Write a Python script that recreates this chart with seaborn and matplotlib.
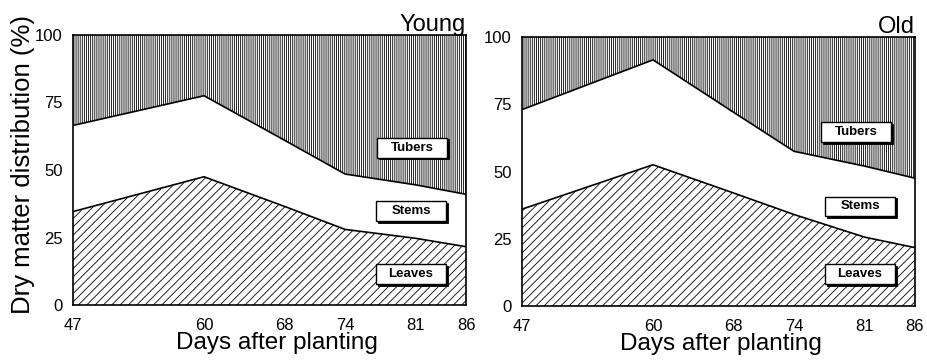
import matplotlib
matplotlib.use("Agg")
import matplotlib.pyplot as plt
import seaborn as sns
import pandas as pd
from matplotlib.patches import Rectangle

# ---- data ----
days = [47, 60, 68, 74, 81, 86]
xtick_labels = ["47", "60", "68", "74", "81", "86"]
yticks = [0, 25, 50, 75, 100]
young_leaves = [34.6, 47.5, 36.5, 28.0, 24.7, 21.6]          # top of leaves band
young_leaves_stems = [66.5, 77.5, 61.0, 48.5, 44.5, 41.0]    # top of stems band
old_leaves = [36.0, 52.5, 42.0, 34.0, 25.6, 21.7]
old_leaves_stems = [73.0, 91.5, 72.0, 57.5, 52.0, 47.5]
panel_titles = ["Young", "Old"]
part_names = ["Tubers", "Stems", "Leaves"]

sns.set_theme(style="white")
plt.rcParams["font.family"] = ["Liberation Sans", "DejaVu Sans"]
plt.rcParams["hatch.linewidth"] = 0.6
plt.rcParams["hatch.color"] = "black"

fig = plt.figure(figsize=(9.27, 3.64), dpi=100)
W, H = 927, 364
ax1 = fig.add_axes([73 / W, 1 - 305 / H, 393 / W, 270 / H])
ax2 = fig.add_axes([522 / W, 1 - 306 / H, 393 / W, 269 / H])

panels = [
    (ax1, young_leaves, young_leaves_stems, panel_titles[0],
     [(0.863, 0.583), (0.860, 0.348), (0.860, 0.115)], 0.52),
    (ax2, old_leaves, old_leaves_stems, panel_titles[1],
     [(0.850, 0.647), (0.860, 0.370), (0.860, 0.119)], 0.505),
]

for ax, leaves, stems, title, box_pos, xlab_x in panels:
    df = pd.DataFrame({"day": days, "leaves": leaves, "stems": stems,
                       "top": [100] * len(days), "bottom": [0] * len(days)})
    # fills
    ax.fill_between(df["day"], df["bottom"], df["leaves"], facecolor="white",
                    edgecolor="black", hatch="////", linewidth=0)
    ax.fill_between(df["day"], df["leaves"], df["stems"], facecolor="white",
                    edgecolor="white", linewidth=0)
    ax.fill_between(df["day"], df["stems"], df["top"], facecolor="white",
                    edgecolor="black", hatch="||||||||", linewidth=0)
    # boundary lines
    sns.lineplot(data=df, x="day", y="leaves", ax=ax, color="black", lw=1.2)
    sns.lineplot(data=df, x="day", y="stems", ax=ax, color="black", lw=1.2)

    ax.set_xlim(days[0], days[-1])
    ax.set_ylim(0, 100)
    ax.set_xticks(days)
    ax.set_xticklabels(xtick_labels)
    ax.set_yticks(yticks)
    ax.set_yticklabels([str(v) for v in yticks])
    ax.tick_params(axis="both", direction="inout", length=9, width=1.1,
                   color="black", labelsize=12, labelcolor="black")
    ax.tick_params(axis="x", pad=5)
    ax.tick_params(axis="y", pad=3)
    for s in ax.spines.values():
        s.set_visible(True)
        s.set_color("black")
        s.set_linewidth(1.2)
    ax.set_xlabel("Days after planting", fontsize=17.5, color="black")
    ax.xaxis.set_label_coords(xlab_x, -0.10)
    ax.set_ylabel("")
    ax.set_title(title, loc="right", fontsize=17, pad=3, color="black")

    # part labels in boxes
    bw, bh = 0.178, 0.074
    for name, (cx, cy) in zip(part_names, box_pos):
        ax.add_patch(Rectangle((cx - bw / 2 + 0.004, cy - bh / 2 - 0.006), bw, bh,
                               transform=ax.transAxes, facecolor="black",
                               edgecolor="black", lw=0.6, zorder=5))
        ax.add_patch(Rectangle((cx - bw / 2, cy - bh / 2), bw, bh,
                               transform=ax.transAxes, facecolor="white",
                               edgecolor="black", lw=1.0, zorder=6))
        ax.text(cx, cy, name, transform=ax.transAxes, ha="center", va="center",
                fontsize=9.5, fontweight="bold", color="black", zorder=7)

ax1.set_ylabel("Dry matter distribution (%)", fontsize=18.5, color="black")
ax1.yaxis.set_label_coords(-0.097, 0.52)

fig.savefig("out.png", dpi=100)
